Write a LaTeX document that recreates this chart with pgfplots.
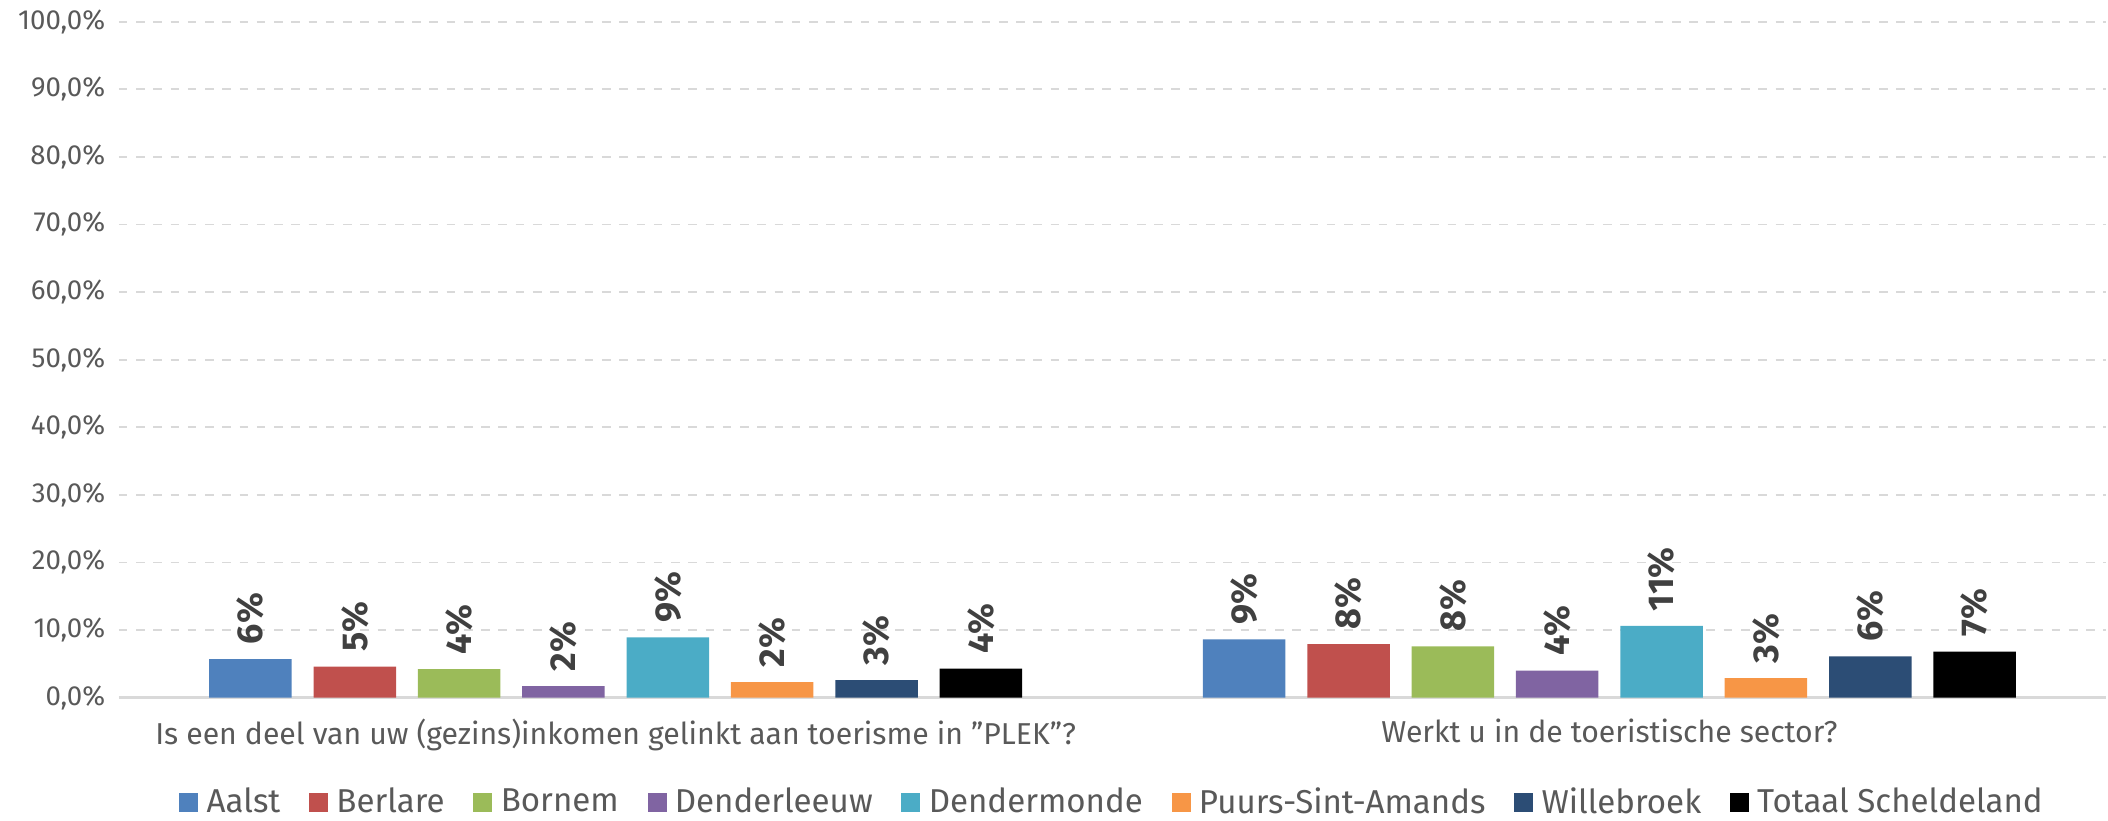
\documentclass[border=0pt]{standalone}
\usepackage{pgfplots}
\pgfplotsset{compat=1.18}
\usepackage{fontspec}
\setmainfont{Fira Sans}
\definecolor{cAalst}{HTML}{4F81BD}
\definecolor{cBerlare}{HTML}{C0504D}
\definecolor{cBornem}{HTML}{9BBB59}
\definecolor{cDender}{HTML}{8064A2}
\definecolor{cDmonde}{HTML}{4BACC6}
\definecolor{cPuurs}{HTML}{F79646}
\definecolor{cWille}{HTML}{2C4D75}
\definecolor{ticktext}{HTML}{595959}
\definecolor{gridc}{HTML}{D9D9D9}
\begin{document}
\begin{tikzpicture}
\begin{axis}[
    width=691pt, height=235pt, scale only axis,
    xmin=-0.5, xmax=1.5,
    ymin=0, ymax=100,
    ytick={0,10,...,100},
    yticklabel={\pgfmathprintnumber[fixed,fixed zerofill,precision=1,use comma]{\tick}\%},
    yticklabel style={font=\fontsize{9.6}{12}\selectfont, text=ticktext, xshift=-1.2pt},
    /pgf/number format/assume math mode=true,
    xtick={0,1},
    xticklabels={Is een deel van uw (gezins)inkomen gelinkt aan toerisme in ”PLEK”?, Werkt u in de toeristische sector?},
    xticklabel style={font=\fontsize{10.5}{12}\selectfont, text=ticktext, yshift=-4pt},
    major tick length=0pt,
    tick style={draw=none},
    axis lines*=left,
    y axis line style={draw=none},
    x axis line style={draw=gridc, line width=1.2pt},
    ymajorgrids,
    grid style={dashed, gridc, line width=0.6pt},
    bar width=0.083,
    ybar,
    nodes near coords={\pgfmathprintnumber[fixed,precision=0]{\pgfplotspointmeta}\%},
    nodes near coords style={rotate=90, anchor=west, font=\bfseries\fontsize{12.5}{14}\selectfont, text=black!75, inner sep=5pt},
    every axis plot/.append style={draw=none},
    legend style={at={(0.5,-0.128)}, anchor=north, draw=none, legend columns=8, inner sep=0pt,
        nodes={inner sep=1pt},
        font=\fontsize{11.5}{13}\selectfont, text=ticktext,
        /tikz/every even column/.append style={column sep=9pt}},
    legend image code/.code={\fill[#1] (0pt,-3.3pt) rectangle (6.6pt,3.3pt); \path (8.5pt,0pt);},
]
\addplot[fill=cAalst, bar shift=-0.3675] coordinates {(0,5.7) (1,8.6)};
\addlegendentry{Aalst}
\addplot[fill=cBerlare, bar shift=-0.2625] coordinates {(0,4.6) (1,7.9)};
\addlegendentry{Berlare}
\addplot[fill=cBornem, bar shift=-0.1575] coordinates {(0,4.2) (1,7.6)};
\addlegendentry{Bornem}
\addplot[fill=cDender, bar shift=-0.0525] coordinates {(0,1.7) (1,4.0)};
\addlegendentry{Denderleeuw}
\addplot[fill=cDmonde, bar shift=0.0525] coordinates {(0,8.9) (1,10.6)};
\addlegendentry{Dendermonde}
\addplot[fill=cPuurs, bar shift=0.1575] coordinates {(0,2.3) (1,2.9)};
\addlegendentry{Puurs-Sint-Amands}
\addplot[fill=cWille, bar shift=0.2625] coordinates {(0,2.6) (1,6.1)};
\addlegendentry{Willebroek}
\addplot[fill=black, bar shift=0.3675] coordinates {(0,4.3) (1,6.8)};
\addlegendentry{Totaal Scheldeland}
\end{axis}
\path (current bounding box.north west) ++(-3pt,0pt);
\end{tikzpicture}
\end{document}
